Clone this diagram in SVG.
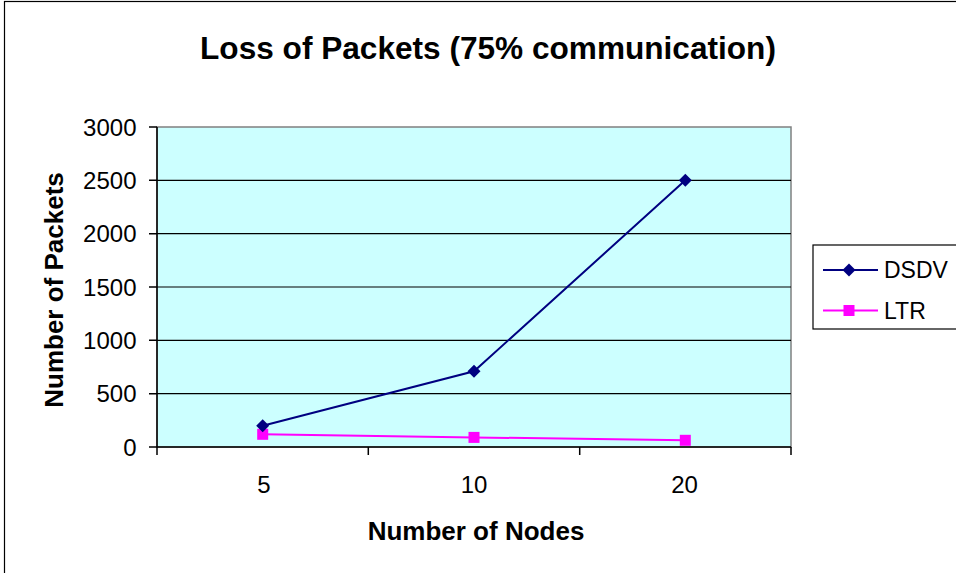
<svg xmlns="http://www.w3.org/2000/svg" width="956" height="573" viewBox="0 0 956 573">
  <style>
    text { font-family: "Liberation Sans", Arial, sans-serif; fill: #000; }
    .title { font-size: 31.6px; font-weight: bold; }
    .axis-title { font-size: 26px; font-weight: bold; }
    .tick { font-size: 24px; }
    .legend-text { font-size: 23px; }
    .grid { stroke: #000; stroke-width: 1.2; }
    .axis { stroke: #000; stroke-width: 1.5; fill: none; }
    .dsdv { stroke: #000080; stroke-width: 2; fill: none; }
    .ltr { stroke: #FF00FF; stroke-width: 2; fill: none; }
  </style>
  <defs>
    <path id="diamond" d="M0,-6.5 L6.5,0 L0,6.5 L-6.5,0 Z" fill="#000080"/>
    <rect id="square" x="-5.5" y="-5.5" width="11" height="11" fill="#FF00FF"/>
  </defs>

  <!-- chart background and frame -->
  <rect x="0" y="0" width="956" height="573" fill="#fff"/>
  <rect x="4.5" y="1.5" width="1000" height="1000" fill="none" stroke="#000" stroke-width="1.2"/>

  <text class="title" x="488" y="58.5" text-anchor="middle">Loss of Packets (75% communication)</text>

  <!-- plot area -->
  <g id="plot-area">
    <rect x="157" y="127" width="634" height="320" fill="#CCFFFF" stroke="#808080" stroke-width="1.5"/>
    <line class="grid" x1="157" y1="180.3" x2="791" y2="180.3"/>
    <line class="grid" x1="157" y1="233.7" x2="791" y2="233.7"/>
    <line class="grid" x1="157" y1="287" x2="791" y2="287"/>
    <line class="grid" x1="157" y1="340.3" x2="791" y2="340.3"/>
    <line class="grid" x1="157" y1="393.7" x2="791" y2="393.7"/>
  </g>

  <!-- axes -->
  <g id="y-axis">
    <line class="axis" x1="157" y1="127" x2="157" y2="447"/>
    <path class="axis" d="M149,127H157M149,180.3H157M149,233.7H157M149,287H157M149,340.3H157M149,393.7H157M149,447H157"/>
    <g class="tick" text-anchor="end">
      <text x="136.5" y="135.5">3000</text>
      <text x="136.5" y="188.8">2500</text>
      <text x="136.5" y="242.2">2000</text>
      <text x="136.5" y="295.5">1500</text>
      <text x="136.5" y="348.8">1000</text>
      <text x="136.5" y="402.2">500</text>
      <text x="136.5" y="455.5">0</text>
    </g>
    <text class="axis-title" transform="translate(63,290) rotate(-90)" text-anchor="middle">Number of Packets</text>
  </g>
  <g id="x-axis">
    <line class="axis" x1="157" y1="447" x2="791" y2="447"/>
    <path class="axis" d="M157,447V455M368.3,447V455M579.7,447V455M791,447V455"/>
    <g class="tick" text-anchor="middle">
      <text x="264" y="493">5</text>
      <text x="474" y="493">10</text>
      <text x="684.5" y="493">20</text>
    </g>
    <text class="axis-title" x="476" y="540" text-anchor="middle">Number of Nodes</text>
  </g>

  <!-- data series -->
  <g id="series">
    <polyline class="ltr" points="262.7,434.3 474,437.4 685.3,440.3"/>
    <use href="#square" x="262.7" y="434.3"/>
    <use href="#square" x="474" y="437.4"/>
    <use href="#square" x="685.3" y="440.3"/>
    <polyline class="dsdv" points="262.7,425.7 474,371.3 685.3,180.3"/>
    <use href="#diamond" x="262.7" y="425.7"/>
    <use href="#diamond" x="474" y="371.3"/>
    <use href="#diamond" x="685.3" y="180.3"/>
  </g>

  <!-- legend -->
  <g id="legend">
    <rect x="813" y="245" width="200" height="84" fill="#fff" stroke="#000" stroke-width="1.2"/>
    <line class="dsdv" x1="823" y1="270" x2="878" y2="270"/>
    <use href="#diamond" x="849" y="270"/>
    <text class="legend-text" x="884" y="278">DSDV</text>
    <line class="ltr" x1="823" y1="310.5" x2="878" y2="310.5"/>
    <use href="#square" x="849" y="310.5"/>
    <text class="legend-text" x="884" y="318.5">LTR</text>
  </g>
</svg>
